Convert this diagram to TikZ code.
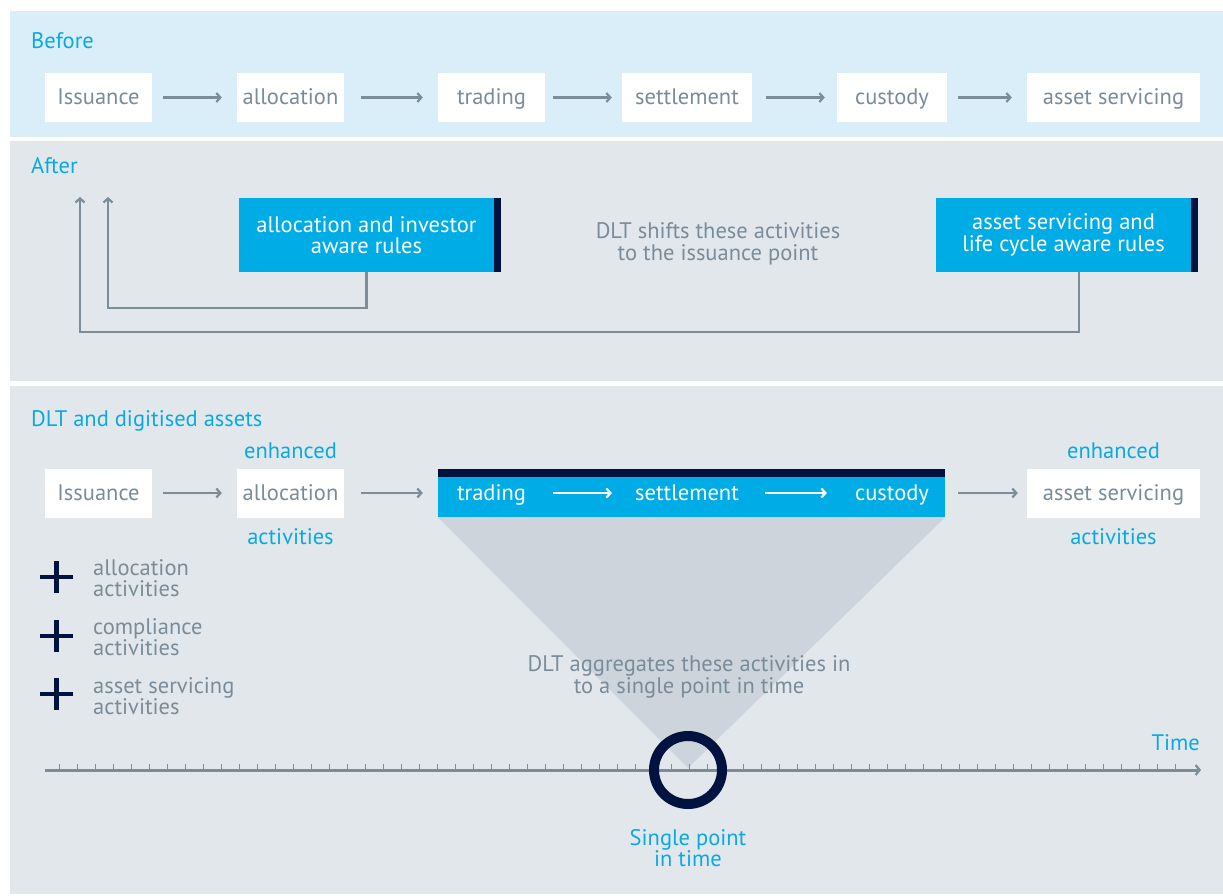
\documentclass[tikz,border=0pt]{standalone}
\usepackage{fontspec}
\setmainfont{PT Sans}
\usetikzlibrary{arrows.meta}
\definecolor{bluebg}{HTML}{D9EEF8}
\definecolor{graybg}{HTML}{E2E7EB}
\definecolor{cyanc}{HTML}{00ACE6}
\definecolor{cyantxt}{HTML}{0AA9E2}
\definecolor{navy}{HTML}{001240}
\definecolor{txtgray}{HTML}{7A8C99}
\definecolor{linegray}{HTML}{7A8D99}
\definecolor{tri}{HTML}{CDD4DC}
\newcommand{\lblfont}{\fontsize{22.5}{21.5}\selectfont}
\tikzset{
  one/.style={text height=18pt, text depth=4pt},
  wbox/.style={fill=white, minimum height=49pt, inner sep=0pt, text=txtgray, font=\lblfont, one},
  cbox/.style={fill=cyanc, minimum height=74pt, minimum width=255pt, inner sep=0pt, text=white, font=\lblfont, align=center},
  title/.style={anchor=west, inner sep=0pt, text=cyantxt, font=\lblfont, one},
  gtxt/.style={inner sep=0pt, text=txtgray, font=\lblfont, align=center},
  ctxt/.style={inner sep=0pt, text=cyantxt, font=\lblfont, align=center},
  wtxt/.style={inner sep=0pt, text=white, font=\lblfont, one},
  arr/.style={draw=linegray, line width=2.5pt, -{Straight Barb[length=4pt,width=9pt,line width=2.2pt]}, shorten <=11pt, shorten >=15pt},
  warr/.style={draw=white, line width=2.5pt, -{Straight Barb[length=4pt,width=9pt,line width=2.2pt]}},
  conn/.style={draw=linegray, line width=2.5pt, -{Straight Barb[length=4pt,width=9pt,line width=2.2pt]}},
  plus/.style={draw=navy, line width=4.5pt},
}
\begin{document}
\begin{tikzpicture}[x=1pt,y=-1pt]
\useasboundingbox (0,0) rectangle (1223,895);
\fill[white] (0,0) rectangle (1223,895);
% panels
\fill[bluebg] (10,11) rectangle (1223,137);
\fill[graybg] (10,141) rectangle (1223,381);
\fill[graybg] (10,386) rectangle (1223,894);

% ---------------- Before
\node[title] (tbefore) at (31,41) {Before};
\node[wbox, minimum width=107pt] (a1) at (98.5,97.5) {Issuance};
\node[wbox, minimum width=107pt] (a2) at (290.5,97.5) {allocation};
\node[wbox, minimum width=107pt] (a3) at (491.5,97.5) {trading};
\node[wbox, minimum width=130pt] (a4) at (687,97.5) {settlement};
\node[wbox, minimum width=110pt] (a5) at (892,97.5) {custody};
\node[wbox, minimum width=173pt] (a6) at (1113.5,97.5) {asset servicing};
\draw[arr] (a1) -- (a2);
\draw[arr, shorten <=17pt] (a2) -- (a3);
\draw[arr, shorten <=8pt, shorten >=10pt] (a3) -- (a4);
\draw[arr, shorten <=14pt, shorten >=12pt] (a4) -- (a5);
\draw[arr] (a5) -- (a6);

% ---------------- After
\node[title] (tafter) at (31,166) {After};
\node[cbox] (r1) at (366.5,235) {allocation and investor\\aware rules};
\fill[navy] (r1.north east) rectangle ([xshift=7pt]r1.south east);
\node[cbox] (r2) at (1063.5,235) {asset servicing and\\life cycle aware rules};
\fill[navy] (r2.north east) rectangle ([xshift=7pt]r2.south east);
\node[gtxt] (shift) at (718,244) {DLT shifts these activities\\to the issuance point};
\coordinate (up1) at (108,197);
\coordinate (up2) at (80,197);
\draw[conn] (r1.south) -- ++(0,36) -| (up1);
\draw[conn] ([xshift=15.5pt]r2.south) -- ++(0,60) -| (up2);

% ---------------- DLT and digitised assets
\node[title] (tdlt) at (31,419) {DLT and digitised assets};
% triangle
\coordinate (apex) at (688,768);
\node[wbox, minimum width=107pt] (d1) at (98.5,493) {Issuance};
\node[wbox, minimum width=107pt] (d2) at (290.5,493) {allocation};
\node[fill=cyanc, minimum width=507pt, minimum height=48pt, inner sep=0pt] (big) at (691.5,493) {};
\fill[tri] (big.south west) -- (big.south east) -- (apex) -- cycle;
\fill[navy] (big.north west) rectangle ([yshift=-8pt]big.north east);
\node[wtxt] (d3) at (491.5,493) {trading};
\node[wtxt] (d4) at (687,493) {settlement};
\node[wtxt] (d5) at (892,493) {custody};
\node[wbox, minimum width=173pt] (d6) at (1113.5,493) {asset servicing};
\node[ctxt, one] (e2) at (290.5,451) {enhanced};
\node[ctxt, one] (f2) at (290.5,537) {activities};
\node[ctxt, one] (e6) at (1113.5,451) {enhanced};
\node[ctxt, one] (f6) at (1113.5,537) {activities};
\draw[arr] (d1) -- (d2);
\draw[arr, shorten <=17pt] (d2) -- (big);
\draw[warr] ([xshift=27pt]d3.east) -- ([xshift=-23pt]d4.west);
\draw[warr] ([xshift=26pt]d4.east) -- ([xshift=-28pt]d5.west);
\draw[arr, shorten <=13pt, shorten >=9pt] (big) -- (d6);

% plus list
\foreach \y/\n in {577/p1,636/p2,694/p3}{
  \draw[plus] (40,\y) -- (73,\y);
  \draw[plus] (56.5,\y-16) -- (56.5,\y+16);
}
\node[gtxt, anchor=west, align=left] (l1) at (93,578) {allocation\\activities};
\node[gtxt, anchor=west, align=left] (l2) at (93,637) {compliance\\activities};
\node[gtxt, anchor=west, align=left] (l3) at (93,696) {asset servicing\\activities};

\node[gtxt] (agg) at (689,677) {DLT aggregates these activities in\\to a single point in time};

% timeline
\coordinate (t0) at (45,770);
\coordinate (t1) at (1201,770);
\foreach \i in {0,...,62}{
  \draw[linegray, line width=1pt] ({59+18*\i},770) -- ++(0,-6);
}
\draw[draw=linegray, line width=3pt, -{Straight Barb[length=4pt,width=10pt,line width=2.2pt]}] (t0) -- (t1);
\node[ctxt, anchor=east, one] (time) at (1200,743) {Time};
\node[draw=navy, line width=10pt, circle, minimum size=68pt, inner sep=0pt] (pt) at (688,770) {};
\node[ctxt] (single) at (688,848) {Single point\\in time};
\end{tikzpicture}
\end{document}
